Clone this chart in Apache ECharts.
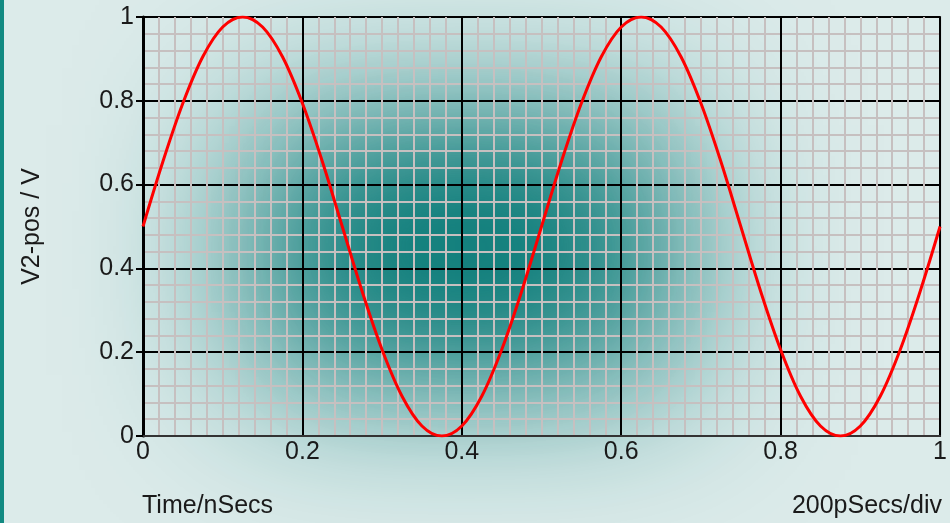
<!DOCTYPE html>
<html>
<head>
<meta charset="utf-8">
<script src="https://cdn.jsdelivr.net/npm/echarts@6/dist/echarts.min.js"></script>
<style>html,body{margin:0;padding:0;background:#dcebea;}#c{width:950px;height:523px;}</style>
</head>
<body>
<div id="c"></div>
<script>
// Data
var timeNs = [0,0.025,0.05,0.075,0.1,0.125,0.15,0.175,0.2,0.225,0.25,0.275,0.3,0.325,0.35,0.375,0.4,0.425,0.45,0.475,0.5,
              0.525,0.55,0.575,0.6,0.625,0.65,0.675,0.7,0.725,0.75,0.775,0.8,0.825,0.85,0.875,0.9,0.925,0.95,0.975,1];
var v2pos = [0.5,0.655,0.794,0.905,0.976,1,0.976,0.905,0.794,0.655,0.5,0.345,0.206,0.095,0.024,0,0.024,0.095,0.206,0.345,0.5,
             0.655,0.794,0.905,0.976,1,0.976,0.905,0.794,0.655,0.5,0.345,0.206,0.095,0.024,0,0.024,0.095,0.206,0.345,0.5];
var xTicks = [0, 0.2, 0.4, 0.6, 0.8, 1];
var yTicks = [0, 0.2, 0.4, 0.6, 0.8, 1];
var yTitle = 'V2-pos / V';
var xTitleLeft = 'Time/nSecs';
var xTitleRight = '200pSecs/div';

var pts = timeNs.map(function (t, i) { return [t, v2pos[i]]; });
var FONT = 'Liberation Sans, Arial, sans-serif';
var FS = 25;
var chart = echarts.init(document.getElementById('c'), null, {renderer: 'canvas'});
function fmt(v) { return String(Math.round(v * 10) / 10); }
var OFF = 3000;
chart.setOption({
  animation: false,
  backgroundColor: '#dcebea',
  graphic: [
    // soft teal glow behind the plot (shadow of an off-screen rect)
    {type: 'rect', z: -10, silent: true,
     shape: {x: 465 - 215 - OFF, y: 250 - 125, width: 430, height: 250},
     style: {fill: '#077a77', shadowBlur: 170, shadowColor: '#0a7b78', shadowOffsetX: OFF, shadowOffsetY: 0}},
    {type: 'rect', z: -9, silent: true,
     shape: {x: 465 - 110 - OFF, y: 248 - 65, width: 220, height: 130},
     style: {fill: '#077a77', shadowBlur: 120, shadowColor: 'rgba(4,120,117,0.7)', shadowOffsetX: OFF, shadowOffsetY: 0}},
    {type: 'rect', z: 10, shape: {x: 0, y: 0, width: 4, height: 523}, style: {fill: '#128a82'}},
    {type: 'text', z: 10, x: 142, y: 494, style: {text: xTitleLeft, font: FS + 'px ' + FONT, fill: '#1a1a1a'}},
    {type: 'text', z: 10, x: 942, y: 494, style: {text: xTitleRight, font: FS + 'px ' + FONT, fill: '#1a1a1a', textAlign: 'right'}}
  ],
  grid: {left: 143, right: 8, top: 17, bottom: 87, show: true, borderColor: '#333', borderWidth: 2, backgroundColor: 'transparent'},
  xAxis: {
    type: 'value', min: 0, max: 1, interval: 0.2,
    axisLine: {show: true, onZero: false, lineStyle: {color: '#333', width: 2}},
    axisTick: {show: false},
    axisLabel: {margin: 4, color: '#1a1a1a', fontSize: FS, fontFamily: FONT,
      formatter: function (v) { return xTicks.indexOf(Math.round(v*10)/10) >= 0 ? fmt(v) : ''; }},
    splitLine: {show: true, lineStyle: {color: '#000', width: 2}},
    minorTick: {show: false, splitNumber: 10},
    minorSplitLine: {show: true, lineStyle: {color: '#c6c0c0', width: 2}}
  },
  yAxis: {
    type: 'value', min: 0, max: 1, interval: 0.2,
    name: yTitle, nameLocation: 'middle', nameGap: 98, nameRotate: 90,
    nameTextStyle: {color: '#1a1a1a', fontSize: FS, fontFamily: FONT},
    axisLine: {show: true, onZero: false, lineStyle: {color: '#000', width: 3}},
    axisTick: {show: true, length: 7, lineStyle: {color: '#000', width: 2}},
    axisLabel: {margin: 9, color: '#1a1a1a', fontSize: FS, fontFamily: FONT,
      formatter: function (v) { return yTicks.indexOf(Math.round(v*10)/10) >= 0 ? fmt(v) : ''; }},
    splitLine: {show: true, lineStyle: {color: '#000', width: 2}},
    minorTick: {show: false, splitNumber: 5},
    minorSplitLine: {show: true, lineStyle: {color: '#c6c0c0', width: 2}}
  },
  series: [{
    type: 'line', data: pts, smooth: 0.35, showSymbol: false, clip: true,
    lineStyle: {color: '#ff0000', width: 3}, z: 5
  }]
});
</script>
</body>
</html>
